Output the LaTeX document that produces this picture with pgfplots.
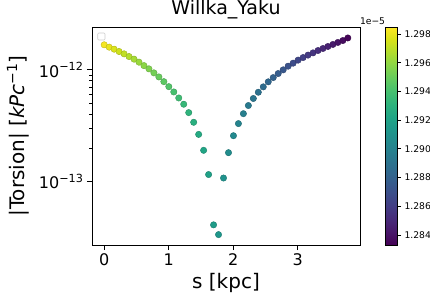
\documentclass[border=0pt]{standalone}
\usepackage{fontspec}
\setmainfont{DejaVu Sans}
\usepackage{pgfplots}
\pgfplotsset{compat=1.18}
\usepackage{pgfplotstable}

\pgfplotstableread{
s y c
0.0000 1.675e-12 1.29830
0.0771 1.596e-12 1.29800
0.1542 1.531e-12 1.29769
0.2313 1.459e-12 1.29739
0.3084 1.390e-12 1.29709
0.3855 1.315e-12 1.29679
0.4626 1.247e-12 1.29648
0.5397 1.172e-12 1.29618
0.6168 1.091e-12 1.29588
0.6939 1.021e-12 1.29557
0.7710 9.40e-13 1.29527
0.8481 8.65e-13 1.29497
0.9252 7.85e-13 1.29466
1.0023 7.08e-13 1.29436
1.0794 6.35e-13 1.29406
1.1565 5.61e-13 1.29376
1.2336 4.93e-13 1.29345
1.3107 4.15e-13 1.29315
1.3878 3.40e-13 1.29285
1.4649 2.65e-13 1.29254
1.5420 1.91e-13 1.29224
1.6191 1.16e-13 1.29194
1.6962 4.12e-14 1.29163
1.7733 3.37e-14 1.29133
1.8504 1.08e-13 1.29103
1.9275 1.82e-13 1.29073
2.0046 2.58e-13 1.29042
2.0817 3.31e-13 1.29012
2.1588 4.06e-13 1.28982
2.2359 4.80e-13 1.28951
2.3130 5.55e-13 1.28921
2.3901 6.31e-13 1.28891
2.4672 7.05e-13 1.28860
2.5443 7.82e-13 1.28830
2.6214 8.53e-13 1.28800
2.6985 9.27e-13 1.28770
2.7756 1.000e-12 1.28739
2.8527 1.079e-12 1.28709
2.9298 1.148e-12 1.28679
3.0069 1.222e-12 1.28648
3.0840 1.288e-12 1.28618
3.1611 1.355e-12 1.28588
3.2382 1.419e-12 1.28557
3.3153 1.489e-12 1.28527
3.3924 1.552e-12 1.28497
3.4695 1.618e-12 1.28467
3.5466 1.687e-12 1.28436
3.6237 1.758e-12 1.28406
3.7008 1.828e-12 1.28376
3.7779 1.928e-12 1.28345
}\datatable

\begin{document}
\begin{tikzpicture}
\useasboundingbox (-92pt,-55pt) rectangle (338pt,245pt);
\begin{axis}[
  at={(0pt,0pt)}, anchor=south west,
  scale only axis, width=268pt, height=218pt,
  ymode=log,
  xmin=-0.189, xmax=3.967, ymin=2.72e-14, ymax=2.415e-12,
  xtick={0,1,2,3},
  ytick={1e-13,1e-12},
  yticklabels={10\textsuperscript{−13},10\textsuperscript{−12}},
  xtick pos=bottom, ytick pos=left,
  tick align=outside,
  major tick length=5pt, minor tick length=2.8pt,
  every tick/.style={black, line width=0.8pt},
  axis line style={line width=0.8pt},
  tick label style={font=\fontsize{16}{16}\selectfont},
  xticklabel style={/pgf/number format/assume math mode=true},
  xlabel={s [kpc]},
  ylabel={|Torsion| [\textit{kPc}\textsuperscript{−1}]},
  label style={font=\fontsize{20}{20}\selectfont},
  xlabel style={at={(axis description cs:0.5,-0.174)}, anchor=center},
  ylabel style={at={(axis description cs:-0.276,0.5)}, anchor=center},
  title={Willka\_Yaku},
  title style={font=\fontsize{19}{19}\selectfont, at={(axis description cs:0.5,1)}, anchor=base, yshift=6.3pt},
  colormap name=viridis,
  point meta min=1.2833, point meta max=1.29849,
  colorbar,
  colorbar style={
    at={(parent axis.north east)}, anchor=north west, xshift=17pt,
    scale only axis, width=12pt, height=218pt,
    ymode=normal,
    ytick={1.284,1.286,1.288,1.290,1.292,1.294,1.296,1.298},
    yticklabel={\pgfmathprintnumber[fixed, fixed zerofill, precision=3, assume math mode=true]{\tick}},
    yticklabel style={font=\fontsize{9.2}{10}\selectfont},
    ytick pos=right, yticklabel pos=right,
    tick align=outside, major tick length=3.5pt,
    yminorticks=false,
    axis line style={line width=0.8pt},
  },
]
\addplot[scatter, only marks, mark=*, mark size=3.2pt, scatter src=explicit]
  table[x=s, y=y, meta=c] {\datatable};
\end{axis}
\draw[rounded corners=1pt, line width=0.6pt, black!20] (5.7pt,205pt) rectangle (13pt,212pt);
\node[anchor=base east, font=\fontsize{9.2}{10}\selectfont, inner sep=0pt] at (293.3pt,220pt) {1e−5};
\end{tikzpicture}
\end{document}
